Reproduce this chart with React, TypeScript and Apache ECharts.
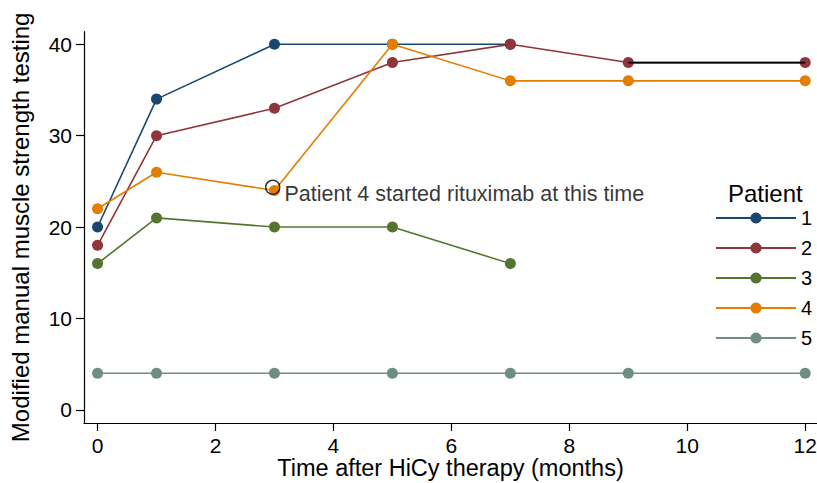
import React, { useEffect, useRef } from "react";
import * as echarts from "echarts";

const months = [0, 1, 3, 5, 7, 9, 12];
const patient1 = [20, 34, 40, 40, 40];
const patient2 = [18, 30, 33, 38, 40, 38, 38];
const patient3 = [16, 21, 20, 20, 16];
const patient4 = [22, 26, 24, 40, 36, 36, 36];
const patient5 = [4, 4, 4, 4, 4, 4, 4];
const patientNames = ["1", "2", "3", "4", "5"];
const patientColors = ["#1a476f", "#90353b", "#55752f", "#e37e00", "#6e8e84"];
const blackSegment = [
  [9, 38],
  [12, 38],
];
const rituximabPoint = [2.97, 24.35];
const annotationText = "Patient 4 started rituximab at this time";
const xTicks = [0, 2, 4, 6, 8, 10, 12];
const yTicks = [0, 10, 20, 30, 40];

const FONT = "'Liberation Sans', Arial, Helvetica, sans-serif";

function pairs(vals: number[]) {
  return vals.map((v, i) => [months[i], v]);
}

export default function App() {
  const ref = useRef<HTMLDivElement>(null);
  useEffect(() => {
    if (!ref.current) return;
    const chart = echarts.init(ref.current, undefined, { renderer: "svg" });
    const all = [patient1, patient2, patient3, patient4, patient5];
    const lineSeries = all.map((vals, i) => ({
      name: patientNames[i],
      type: "line",
      data: pairs(vals),
      symbol: "circle",
      symbolSize: 11,
      color: patientColors[i],
      lineStyle: { width: 1.6, color: patientColors[i] },
      itemStyle: { color: patientColors[i] },
      z: 2 + i,
    }));
    chart.setOption({
      animation: false,
      backgroundColor: "#fff",
      textStyle: { fontFamily: FONT },
      grid: { left: 84, right: 0, top: 31.7, bottom: 60, outerBoundsMode: "none", containLabel: false },
      xAxis: {
        type: "value",
        min: -0.23,
        max: 12.2,
        name: "Time after HiCy therapy (months)",
        nameLocation: "middle",
        nameGap: 33,
        nameMoveOverlap: false,
        nameTextStyle: { fontSize: 23.5, color: "#000", fontFamily: FONT },
        axisLine: { show: true, onZero: false, lineStyle: { color: "#000", width: 1.2 } },
        axisTick: { show: true, length: 8, lineStyle: { color: "#000", width: 1.2 }, customValues: xTicks },
        axisLabel: { fontSize: 21, color: "#000", margin: 12, customValues: xTicks, fontFamily: FONT },
        splitLine: { show: false },
      },
      yAxis: {
        type: "value",
        min: -1.45,
        max: 41.38,
        name: "Modified manual muscle strength testing",
        nameLocation: "middle",
        nameGap: 52,
        nameMoveOverlap: false,
        nameTextStyle: { fontSize: 24, color: "#000", fontFamily: FONT },
        axisLine: { show: true, onZero: false, lineStyle: { color: "#000", width: 1.2 } },
        axisTick: { show: true, length: 8, lineStyle: { color: "#000", width: 1.2 }, customValues: yTicks },
        axisLabel: { fontSize: 21, color: "#000", margin: 12, customValues: yTicks, fontFamily: FONT },
        splitLine: { show: false },
      },
      legend: {
        data: patientNames,
        orient: "vertical",
        left: 715,
        top: 208,
        padding: 0,
        itemWidth: 80,
        itemHeight: 14,
        itemGap: 10,
        textStyle: { fontSize: 20, color: "#000", fontFamily: FONT },
        selectedMode: false,
      },
      graphic: [
        {
          type: "text",
          left: 728,
          top: 181,
          style: { text: "Patient", fontSize: 24, fill: "#000", fontFamily: FONT },
        },
      ],
      series: [
        ...lineSeries,
        {
          name: "segment",
          type: "line",
          data: blackSegment,
          symbol: "none",
          lineStyle: { width: 1.8, color: "#000" },
          color: "#000",
          z: 10,
        },
        {
          name: "annotation",
          type: "scatter",
          data: [rituximabPoint],
          symbol: "circle",
          symbolSize: 14,
          itemStyle: { color: "rgba(0,0,0,0)", borderColor: "#000", borderWidth: 1.5 },
          label: {
            show: true,
            position: "right",
            distance: 4,
            offset: [0, 7],
            formatter: annotationText,
            fontSize: 21.5,
            color: "#000",
            fontFamily: FONT,
          },
          z: 11,
        },
      ],
    });
    return () => chart.dispose();
  }, []);
  return (
    <div
      ref={ref}
      style={{ position: "fixed", left: 0, top: 0, width: 817, height: 483 }}
    />
  );
}
